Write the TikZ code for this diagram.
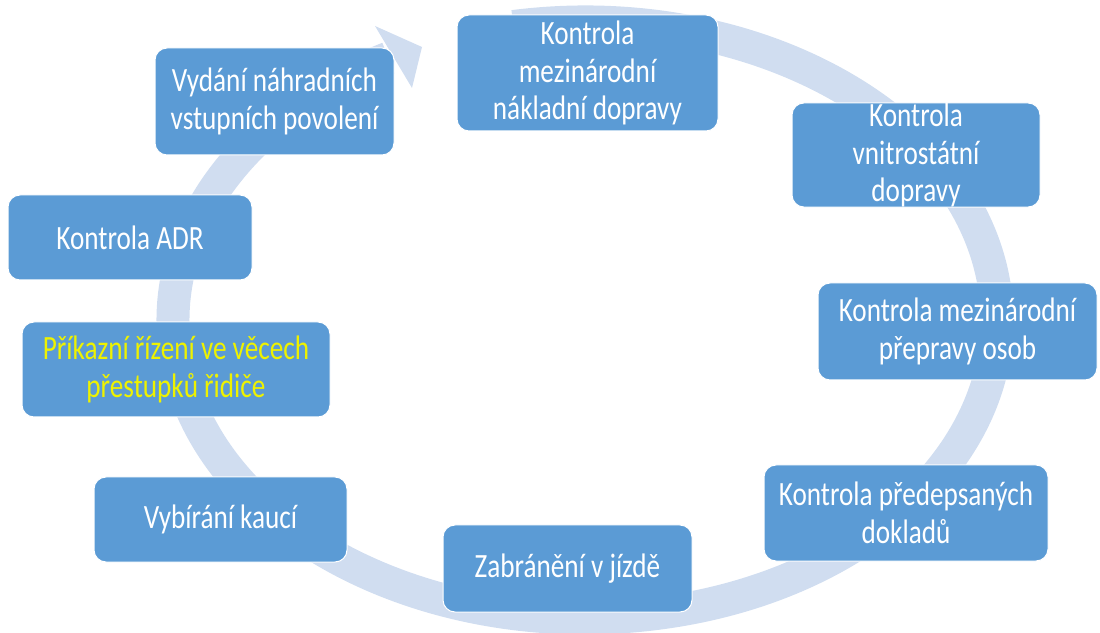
\documentclass[tikz,border=0pt]{standalone}
\usepackage{fontspec}
\setmainfont{Carlito}[FakeStretch=0.8]
\usetikzlibrary{positioning}
\definecolor{boxblue}{RGB}{91,155,213}
\definecolor{ringblue}{RGB}{208,221,240}
\definecolor{textyellow}{RGB}{238,242,0}

\begin{document}
\begin{tikzpicture}[x=1pt, y=1pt,
  cyclebox/.style={draw=white, line width=1pt, fill=boxblue, rounded corners=12pt,
    text=white, align=center, inner sep=0pt, font=\fontsize{34}{37.5}\selectfont}]
  \useasboundingbox (0,0) rectangle (1100,632);

  % kruhova sipka
  \coordinate (stred) at (585,312);
  \draw[ringblue, line width=33pt] (stred) ++(100:412pt and 298pt)
    arc[start angle=100, end angle=-241.5, x radius=412pt, y radius=298pt];
  \fill[ringblue] (375,606) -- (422,585) -- (412,544) -- cycle;

  % cinnosti
  \node[cyclebox, minimum width=261pt, minimum height=116pt] (naklad) at (587.5,559) {Kontrola\\mezinárodní\\nákladní dopravy};
  \node[cyclebox, minimum width=248pt, minimum height=104pt] (vnitro) at (916,477) {Kontrola\\vnitrostátní\\dopravy};
  \node[cyclebox, minimum width=279pt, minimum height=97pt] (osoby) at (957.5,300.5) {Kontrola mezinárodní\\přepravy osob};
  \node[cyclebox, minimum width=284pt, minimum height=96pt] (doklady) at (906,119) {Kontrola předepsaných\\dokladů};
  \node[cyclebox, minimum width=249pt, minimum height=87pt] (jizda) at (567.5,63.5) {Zabránění v jízdě};
  \node[cyclebox, minimum width=253pt, minimum height=85pt] (kauce) at (220.5,112.5) {Vybírání kaucí};
  \node[cyclebox, minimum width=308pt, minimum height=95pt, text=textyellow] (prikaz) at (176,262.5) {Příkazní řízení ve věcech\\přestupků řidiče};
  \node[cyclebox, minimum width=244pt, minimum height=85pt] (adr) at (130,394.5) {Kontrola ADR};
  \node[cyclebox, minimum width=239pt, minimum height=107pt] (povoleni) at (274.5,530.5) {Vydání náhradních\\vstupních povolení};
\end{tikzpicture}
\end{document}
